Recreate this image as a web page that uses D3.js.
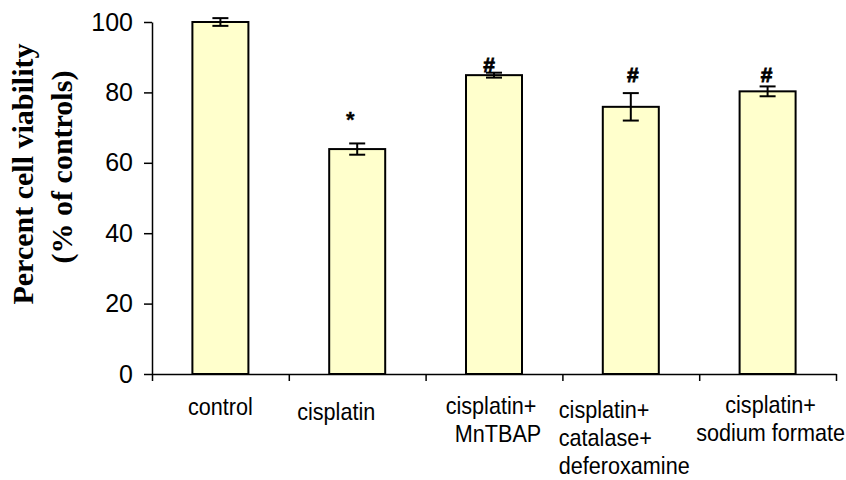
<!DOCTYPE html>
<html>
<head>
<meta charset="utf-8">
<script src="https://cdn.jsdelivr.net/npm/d3@7"></script>
<style>
  html, body { margin: 0; padding: 0; background: #fff; }
  svg { display: block; }
</style>
</head>
<body>
<svg id="chart" width="846" height="480"></svg>
<script>
// Treatment groups and their x-axis label lines
const categories = ["control", "cisplatin", "MnTBAP", "catalase", "formate"];
const categoryLabels = [
  ["control"],
  ["cisplatin"],
  ["cisplatin+", "MnTBAP"],
  ["cisplatin+", "catalase+", "deferoxamine"],
  ["cisplatin+", "sodium formate"]
];
// Mean viability (% of controls) and error (±)
const viability = [100, 63.9, 84.9, 75.9, 80.3];
const errors = [1.1, 1.6, 0.7, 3.9, 1.4];
// Significance markers above each bar
const markers = ["", "*", "#", "#", "#"];
const yTicks = [0, 20, 40, 60, 80, 100];

(function draw() {
  const svg = d3.select("#chart");
  const plotLeft = 152, plotRight = 836, plotTop = 22, plotBottom = 374;

  const x = d3.scaleBand().domain(categories).range([plotLeft, plotRight]).paddingInner(0).paddingOuter(0);
  const xEdge = d3.scaleLinear().domain([0, categories.length]).range([plotLeft, plotRight]);
  const y = d3.scaleLinear().domain([0, 100]).range([plotBottom, plotTop]);
  const barW = 56;

  // Y axis
  const yAxis = svg.append("g")
    .attr("transform", `translate(${plotLeft},0)`)
    .call(d3.axisLeft(y).tickValues(yTicks).tickSize(8).tickSizeOuter(0).tickPadding(11));
  yAxis.select(".domain").attr("stroke", "#000").attr("stroke-width", 1.5);
  yAxis.selectAll(".tick line").attr("stroke", "#000").attr("stroke-width", 1.5);
  yAxis.selectAll(".tick text")
    .attr("font-family", "Arial, 'Liberation Sans', sans-serif")
    .attr("font-size", 25).attr("fill", "#000");

  // X axis with ticks at group boundaries
  const xAxis = svg.append("g")
    .attr("transform", `translate(0,${plotBottom})`)
    .call(d3.axisBottom(xEdge).tickValues(d3.range(categories.length + 1)).tickFormat("").tickSize(7).tickSizeOuter(0));
  xAxis.select(".domain").attr("stroke", "#000").attr("stroke-width", 1.5);
  xAxis.selectAll(".tick line").attr("stroke", "#000").attr("stroke-width", 1.5);

  // Bars
  const cx = d => x(d) + x.bandwidth() / 2;
  svg.append("g").selectAll("rect")
    .data(categories)
    .join("rect")
    .attr("x", d => cx(d) - barW / 2)
    .attr("y", (d, i) => y(viability[i]))
    .attr("width", barW)
    .attr("height", (d, i) => y(0) - y(viability[i]))
    .attr("fill", "#FFFFCC")
    .attr("stroke", "#000")
    .attr("stroke-width", 2);

  // Error bars
  const eb = svg.append("g").attr("stroke", "#000").attr("stroke-width", 2);
  categories.forEach((c, i) => {
    const hi = y(viability[i] + errors[i]), lo = y(viability[i] - errors[i]);
    eb.append("line").attr("x1", cx(c)).attr("x2", cx(c)).attr("y1", hi).attr("y2", lo);
    eb.append("line").attr("x1", cx(c) - 8).attr("x2", cx(c) + 8).attr("y1", hi).attr("y2", hi);
    eb.append("line").attr("x1", cx(c) - 8).attr("x2", cx(c) + 8).attr("y1", lo).attr("y2", lo);
  });

  // Significance markers, placed relative to the top of each error bar
  const markerShift = [[0, 0], [-7, -16], [-5, -1], [2, -11], [-1, -4]];
  categories.forEach((c, i) => {
    if (!markers[i]) return;
    const errTop = y(viability[i] + errors[i]);
    svg.append("text")
      .attr("x", cx(c) + markerShift[i][0])
      .attr("y", errTop + markerShift[i][1])
      .attr("text-anchor", "middle")
      .attr("font-family", "Arial, 'Liberation Sans', sans-serif")
      .attr("font-weight", "bold")
      .attr("font-size", markers[i] === "*" ? 22 : 21)
      .attr("stroke", "#000")
      .attr("stroke-width", markers[i] === "#" ? 0.8 : 0.3)
      .attr("fill", "#000")
      .text(markers[i]);
  });

  // Category labels
  const labelLayout = [
    { dx: 0, y0: 415, anchor: "middle" },
    { dx: -21, y0: 420, anchor: "middle" },
    { dx: 0, y0: 414, anchor: "middle", lineDx: [-3, 4] },
    { dx: -72, y0: 418, anchor: "start" },
    { dx: 3, y0: 413, anchor: "middle" }
  ];
  const lineH = 28;
  categories.forEach((c, i) => {
    const L = labelLayout[i];
    categoryLabels[i].forEach((t, j) => {
      const lx = cx(c) + L.dx + (L.lineDx ? L.lineDx[j] : 0);
      const ly = L.y0 + j * lineH;
      svg.append("text")
        .attr("transform", `translate(${lx},${ly}) scale(0.9,1)`)
        .attr("text-anchor", L.anchor)
        .attr("font-family", "Arial, 'Liberation Sans', sans-serif")
        .attr("font-size", 24)
        .attr("fill", "#000")
        .text(t);
    });
  });

  // Y axis title
  const yTitle = svg.append("g")
    .attr("font-family", "'Times New Roman', 'Liberation Serif', serif")
    .attr("font-weight", "bold")
    .attr("font-size", 30)
    .attr("fill", "#000")
    .attr("text-anchor", "middle");
  yTitle.append("text").attr("transform", "translate(33,174) rotate(-90)").text("Percent cell viability");
  yTitle.append("text").attr("transform", "translate(72,167) rotate(-90)").text("(% of controls)");
})();
</script>
</body>
</html>
